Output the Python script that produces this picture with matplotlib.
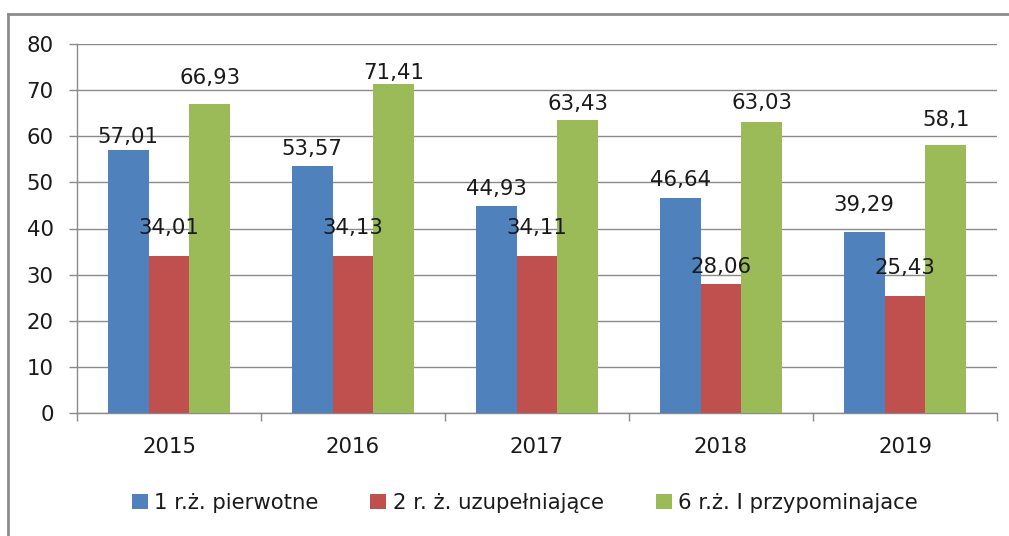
import matplotlib
matplotlib.use("Agg")
import matplotlib.pyplot as plt
from matplotlib.lines import Line2D
import numpy as np

# ── data ──
years = ["2015", "2016", "2017", "2018", "2019"]
series_names = ["1 r.ż. pierwotne", "2 r. ż. uzupełniające", "6 r.ż. I przypominajace"]
pierwotne = [57.01, 53.57, 44.93, 46.64, 39.29]
uzupelniajace = [34.01, 34.13, 34.11, 28.06, 25.43]
przypominajace = [66.93, 71.41, 63.43, 63.03, 58.10]

# label lift above bar top (data units), as placed in the original
lift_blue = [2.8, 3.7, 3.7, 3.9, 5.8]
lift_red = [6.1, 6.0, 6.0, 3.6, 6.1]
lift_green = [5.8, 2.4, 3.6, 4.2, 5.4]

COLORS = ["#4F81BD", "#C0504D", "#9BBB59"]
GRID = "#8A8A8A"
TEXT = "#1A1A1A"
FS = 15.3

plt.rcParams["font.family"] = ["DejaVu Sans"]

fig = plt.figure(figsize=(10.09, 5.36), dpi=100)
ax = fig.add_axes([77 / 1009, 1 - 413 / 536, (997 - 77) / 1009, (413 - 44) / 536])

x = np.arange(len(years))
w = 0.222
all_vals = [pierwotne, uzupelniajace, przypominajace]
all_lifts = [lift_blue, lift_red, lift_green]
for k, (vals, lifts, name) in enumerate(zip(all_vals, all_lifts, series_names)):
    xs = x + (k - 1) * w
    ax.bar(xs, vals, width=w, color=COLORS[k], label=name, zorder=3,
           edgecolor="none")
    for xi, v, lf in zip(xs, vals, lifts):
        lbl = f"{v:g}".replace(".", ",")
        ax.text(xi, v + lf, lbl, ha="center", va="center",
                fontsize=FS, color=TEXT, zorder=5)

ax.set_xlim(-0.5, len(years) - 0.5)
ax.set_ylim(0, 80)
ax.set_yticks(range(0, 81, 10))
ax.set_xticks(x)
ax.set_xticklabels(years)
ax.set_xticks(np.arange(-0.5, len(years), 1), minor=True)

ax.grid(axis="y", color=GRID, linewidth=1.0, zorder=0)
for s in ["top", "right"]:
    ax.spines[s].set_visible(False)
for s in ["left", "bottom"]:
    ax.spines[s].set_color(GRID)
    ax.spines[s].set_linewidth(1.0)

ax.tick_params(axis="y", length=5.8, width=1.0, color=GRID, pad=11,
               labelsize=FS, labelcolor=TEXT)
ax.tick_params(axis="x", which="major", length=0, pad=17,
               labelsize=FS, labelcolor=TEXT)
ax.tick_params(axis="x", which="minor", length=6, width=1.0, color=GRID)

fig.legend(loc="center", bbox_to_anchor=(0.52, 1 - 503 / 536), ncol=3,
           frameon=False, fontsize=FS, handlelength=0.75,
           handleheight=0.75, handletextpad=0.3, columnspacing=2.45,
           labelcolor=TEXT)

# outer chart frame (cut by the image on the right and bottom)
fig.add_artist(Line2D([8 / 1009, 8 / 1009], [0, 1 - 14 / 536],
                      transform=fig.transFigure, color="#8C8C8C", linewidth=2))
fig.add_artist(Line2D([8 / 1009, 1], [1 - 14 / 536, 1 - 14 / 536],
                      transform=fig.transFigure, color="#8C8C8C", linewidth=2))

fig.savefig("out.png", dpi=100, facecolor="white")
